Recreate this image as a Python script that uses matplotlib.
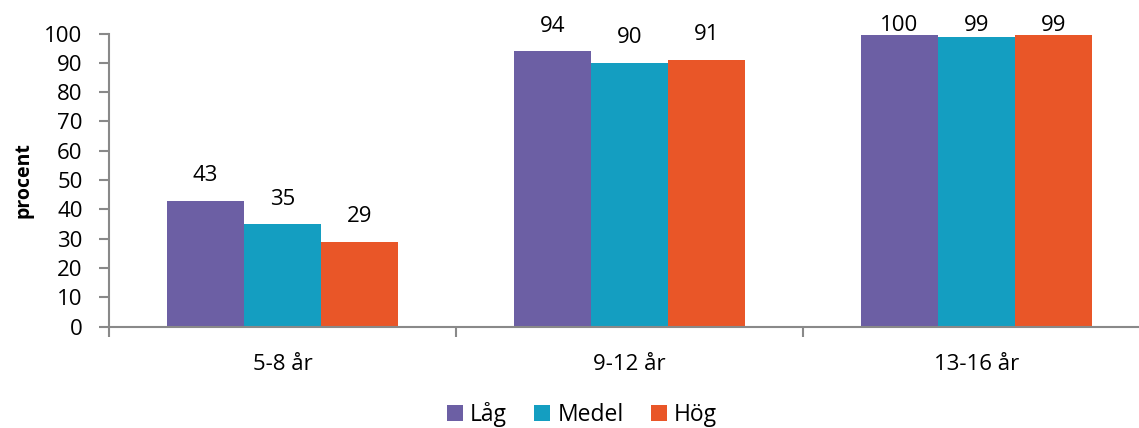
import matplotlib.pyplot as plt
import numpy as np

plt.rcParams['font.family'] = ['Open Sans', 'DejaVu Sans']

groups = ["5-8 år", "9-12 år", "13-16 år"]
series = ["Låg", "Medel", "Hög"]
lag = [43, 94, 99.5]
medel = [35, 90, 98.7]
hog = [29, 91, 99.4]
colors = ["#6C5FA4", "#149EC1", "#E95628"]

fig = plt.figure(figsize=(11.39, 4.28), dpi=100)
ax = fig.add_axes([109 / 1139, 0.2367, 1041 / 1139, 0.685])

x = np.arange(len(groups))
w = 0.222
for i, (vals, name, c) in enumerate(zip([lag, medel, hog], series, colors)):
    pos = x + (i - 1) * w
    ax.bar(pos, vals, width=w, color=c, label=name)
    for px, v in zip(pos, vals):
        ax.text(px, min(v + 8.5, 102.9), "%.0f" % v, ha="center", va="center",
                fontsize=16)

gray = "#898989"
ax.set_xlim(-0.5, 2.5)
ax.set_ylim(0, 100)
ax.set_yticks(range(0, 101, 10))
ax.set_xticks(x)
ax.set_xticklabels(groups)
ax.set_xticks([-0.5, 0.5, 1.5, 2.5], minor=True)
ax.tick_params(axis="x", which="major", length=0, pad=20, labelsize=16)
ax.tick_params(axis="x", which="minor", length=7, width=1.5, color=gray)
ax.tick_params(axis="y", length=7, width=1.5, color=gray, pad=12, labelsize=16)
for s in ["top", "right"]:
    ax.spines[s].set_visible(False)
for s in ["left", "bottom"]:
    ax.spines[s].set_color(gray)
    ax.spines[s].set_linewidth(1.5)

ax.set_ylabel("procent", fontsize=14, fontweight="bold", labelpad=8)

fig.legend(loc="center", bbox_to_anchor=(582 / 1139, 0.032), ncol=3,
           frameon=False, fontsize=16.5, handlelength=0.7, handleheight=0.7,
           handletextpad=0.3, columnspacing=1.2, borderpad=0)

fig.savefig("out.png", dpi=100)
